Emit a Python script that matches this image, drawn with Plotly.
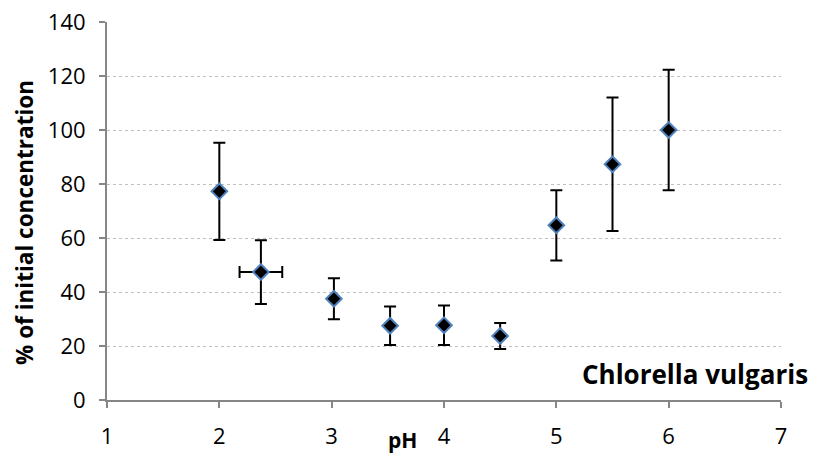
import plotly.graph_objects as go

ph = [2.0, 2.37, 3.02, 3.52, 4.0, 4.5, 5.0, 5.5, 6.0]
conc = [77.3, 47.4, 37.5, 27.5, 27.7, 23.7, 64.7, 87.3, 100.0]
conc_err = [18.0, 11.8, 7.6, 7.1, 7.3, 4.8, 13.0, 24.7, 22.3]
ph_err = [0, 0.19, 0, 0, 0, 0, 0, 0, 0]

font_family = "'Open Sans', sans-serif"

fig = go.Figure()
fig.add_trace(go.Scatter(
    x=ph, y=conc, mode="markers",
    marker=dict(symbol="diamond", size=12, color="black",
                line=dict(color="#4F81BD", width=2)),
    error_y=dict(type="data", array=conc_err, visible=True,
                 color="black", thickness=2, width=6),
    error_x=dict(type="data", array=ph_err, visible=True,
                 color="black", thickness=2, width=6),
    showlegend=False,
))

fig.update_layout(
    width=816, height=458,
    margin=dict(l=107, r=35, t=22, b=58),
    paper_bgcolor="white", plot_bgcolor="white",
    font=dict(family=font_family, size=22, color="black"),
    xaxis=dict(range=[1, 7], dtick=1, tick0=1, showgrid=False,
               showline=True, linecolor="#868686", linewidth=2,
               ticks="outside", ticklen=6, tickcolor="#868686", tickwidth=2,
               ticklabelstandoff=10, zeroline=False, automargin=False),
    yaxis=dict(range=[0, 140], dtick=20, showgrid=True,
               gridcolor="#BFBFBF", griddash="dot", gridwidth=1,
               showline=True, linecolor="#868686", linewidth=2,
               ticks="outside", ticklen=6, tickcolor="#868686", tickwidth=2,
               ticklabelstandoff=9, zeroline=False, automargin=False),
    annotations=[
        dict(text="<b>% of initial concentration</b>", textangle=-90,
             xref="paper", yref="paper", x=-0.1217, y=0.471,
             xanchor="center", yanchor="middle", showarrow=False,
             font=dict(size=22.5)),
        dict(text="<b>pH</b>", xref="paper", yref="paper", x=0.439, y=-0.105,
             xanchor="center", yanchor="middle", showarrow=False,
             font=dict(size=21)),
        dict(text="<b>Chlorella vulgaris</b>", xref="paper", yref="paper",
             x=1.043, y=0.069, xanchor="right", yanchor="middle",
             showarrow=False, font=dict(size=26)),
    ],
)

fig.write_html("out.html")
